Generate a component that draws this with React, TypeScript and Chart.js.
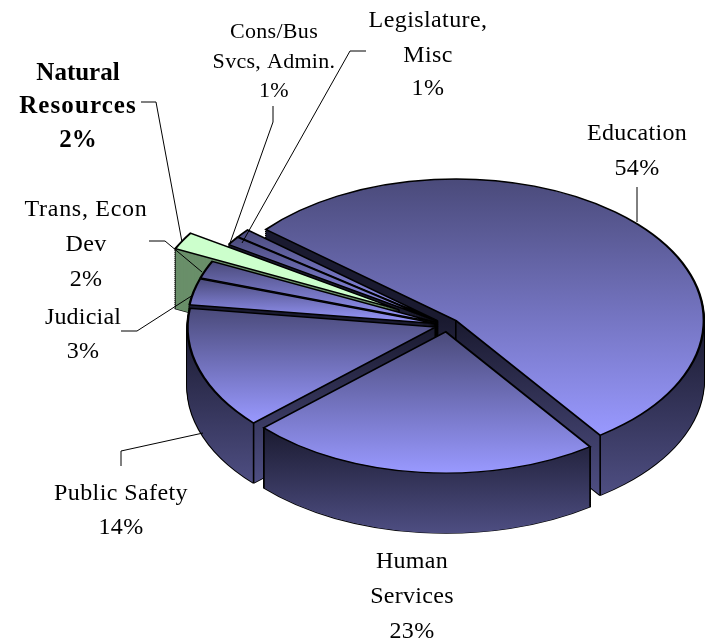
import React, { useEffect, useRef } from "react";
import { Chart, registerables } from "chart.js";

Chart.register(...registerables);

// Share of the budget by programme area, in percent.
const categories = [
  "Education",
  "Human Services",
  "Public Safety",
  "Judicial",
  "Trans, Econ Dev",
  "Natural Resources",
  "Cons/Bus Svcs, Admin.",
  "Legislature, Misc",
];
const shares = [54, 23, 14, 3, 2, 2, 1, 1];

// How each category name wraps on its callout.
const nameLines = [
  ["Education"],
  ["Human", "Services"],
  ["Public Safety"],
  ["Judicial"],
  ["Trans, Econ", "Dev"],
  ["Natural", "Resources"],
  ["Cons/Bus", "Svcs, Admin."],
  ["Legislature,", "Misc"],
];

// 3D projection of the pie.
const WIDTH = 706;
const HEIGHT = 641;
const TILT = 0.57;
const DEPTH = 60;
const RADIUS = 248;
const CENTER_X = 447;
const CENTER_Y = 325;

const explode = [12, 12, 12, 12, 12, 55, 12, 12];
const paintOrder = [0, 7, 6, 5, 4, 3, 2, 1];
const HIGHLIGHTED = 5;

const calloutPlacement = [
  { x: 637, y: [134, 169], size: 24, spacing: [0.3, 0.3] },
  { x: 412, y: [562, 597, 632], size: 24, spacing: [0.3, 0.3, 0.3] },
  { x: 121, y: [494, 528], size: 24, spacing: [0.4, 0.4] },
  { x: 83, y: [318, 352], size: 24, spacing: [0.2, 0.2] },
  { x: 86, y: [210, 245, 280], size: 24, spacing: [0.7, 0.3, 0.3] },
  { x: 78, y: [74, 107, 141], size: 25, bold: true, spacing: [0, 1.1, 0] },
  { x: 274, y: [32, 62, 91], size: 22, spacing: [0.3, 0.3, 0.3] },
  { x: 428, y: [21, 56, 89], size: 24, spacing: [0.4, 0.4, 0.4] },
];

const leaderPaths = [
  [[637, 187], [637, 222]],
  [[121, 466], [121, 451], [203, 433]],
  [[121, 331], [137, 331], [193, 295]],
  [[149, 241], [165, 241], [202, 272]],
  [[141, 102], [156, 102], [182, 242]],
  [[273, 106], [273, 122], [230, 243]],
  [[366, 51], [350, 51], [242, 243]],
];

type Arc = any;

function midAngle(arc: Arc) {
  return (arc.startAngle + arc.endAngle) / 2;
}

// Screen-space y of a point on the top face of a slice.
function screenY(localY: number, shift: number) {
  return CENTER_Y + TILT * (localY + shift);
}

function sliceExtent(arc: Arc, shiftY: number) {
  const rim: number[] = [];
  const steps = 48;
  for (let i = 0; i <= steps; i++) {
    const a = arc.startAngle + ((arc.endAngle - arc.startAngle) * i) / steps;
    rim.push(screenY(Math.sin(a) * arc.outerRadius, shiftY));
  }
  const apex = screenY(0, shiftY);
  return { apex, rimTop: Math.min(...rim), rimBottom: Math.max(...rim) };
}

function verticalGradient(
  ctx: CanvasRenderingContext2D,
  arc: Arc,
  shiftY: number,
  drop: number,
  y0: number,
  y1: number,
  c0: string,
  c1: string
) {
  // Gradient endpoints are given on screen and mapped back under the tilt.
  const toLocal = (y: number) =>
    arc.y + (y - drop - CENTER_Y) / TILT - shiftY;
  const g = ctx.createLinearGradient(0, toLocal(y0), 0, toLocal(y1));
  g.addColorStop(0, c0);
  g.addColorStop(1, c1);
  return g;
}

function withTilt(
  ctx: CanvasRenderingContext2D,
  arc: Arc,
  shiftX: number,
  shiftY: number,
  drop: number,
  paint: () => void
) {
  ctx.save();
  ctx.translate(arc.x, arc.y + drop);
  ctx.scale(1, TILT);
  ctx.translate(-arc.x + shiftX, -arc.y + shiftY);
  paint();
  ctx.restore();
}

function drawWith(ctx: CanvasRenderingContext2D, arc: Arc, overrides: object) {
  const original = arc.options;
  arc.options = { ...original, ...overrides };
  arc.draw(ctx);
  arc.options = original;
}

const pie3d = {
  id: "pie3d",
  beforeDatasetDraw(chart: Chart) {
    const ctx = chart.ctx;
    const arcs = chart.getDatasetMeta(0).data as Arc[];
    for (const index of paintOrder) {
      const arc = arcs[index];
      const mid = midAngle(arc);
      const shiftX = Math.cos(mid) * explode[index];
      const shiftY = Math.sin(mid) * explode[index];
      const { apex, rimTop, rimBottom } = sliceExtent(arc, shiftY);
      const green = index === HIGHLIGHTED;

      // Outline of the extruded body.
      for (let d = DEPTH; d > 0; d -= 2) {
        withTilt(ctx, arc, shiftX, shiftY, d, () =>
          drawWith(ctx, arc, { backgroundColor: "rgba(0,0,0,0)", borderColor: "#000", borderWidth: 2.4 })
        );
      }
      // Side walls.
      const wallTop = Math.max(apex, rimTop);
      const wallBottom = Math.max(apex, rimBottom) + DEPTH;
      for (let d = DEPTH; d > 0; d -= 1) {
        withTilt(ctx, arc, shiftX, shiftY, d, () =>
          drawWith(ctx, arc, {
            borderWidth: 0,
            backgroundColor: green
              ? "#6a8f6a"
              : verticalGradient(ctx, arc, shiftY, d, wallTop, wallBottom, "#1a1a30", "#4e4e82"),
          })
        );
      }
      // Vertical edges at the apex and at rim corners that face the viewer.
      ctx.save();
      ctx.strokeStyle = "#000";
      ctx.lineWidth = 1.6;
      const corners = [[0, 0]];
      for (const a of [arc.startAngle, arc.endAngle]) {
        if (Math.sin(a) > 0) {
          corners.push([Math.cos(a) * arc.outerRadius, Math.sin(a) * arc.outerRadius]);
        }
      }
      for (const [px, py] of corners) {
        const sx = arc.x + px + shiftX;
        const sy = screenY(py, shiftY);
        ctx.beginPath();
        ctx.moveTo(sx, sy);
        ctx.lineTo(sx, sy + DEPTH);
        ctx.stroke();
      }
      ctx.restore();
      // Top face.
      const faceTop = Math.min(apex, rimTop);
      const faceBottom = Math.max(apex, rimBottom);
      withTilt(ctx, arc, shiftX, shiftY, 0, () =>
        drawWith(ctx, arc, {
          borderColor: "#000",
          borderWidth: 2.4,
          borderJoinStyle: "miter",
          backgroundColor: green
            ? "#ccffcc"
            : verticalGradient(ctx, arc, shiftY, 0, faceTop, faceBottom, "#4a4a7a", "#9999ff"),
        })
      );
    }
    return false;
  },
  afterDraw(chart: Chart) {
    const ctx = chart.ctx as any;
    ctx.save();
    ctx.strokeStyle = "#000";
    ctx.lineWidth = 1;
    for (const path of leaderPaths) {
      ctx.beginPath();
      path.forEach(([x, y], i) => (i ? ctx.lineTo(x, y) : ctx.moveTo(x, y)));
      ctx.stroke();
    }
    ctx.fillStyle = "#000";
    ctx.textAlign = "center";
    ctx.textBaseline = "middle";
    calloutPlacement.forEach((place, i) => {
      const lines = [...nameLines[i], `${shares[i]}%`];
      ctx.font = `${place.bold ? "bold " : ""}${place.size}px "Liberation Serif"`;
      lines.forEach((line, j) => {
        ctx.letterSpacing = `${place.spacing[j]}px`;
        ctx.fillText(line, place.x, place.y[j]);
      });
    });
    ctx.restore();
  },
};

export default function App() {
  const ref = useRef<HTMLCanvasElement>(null);
  useEffect(() => {
    const chart = new Chart(ref.current as HTMLCanvasElement, {
      type: "pie",
      data: {
        labels: categories,
        datasets: [{ data: shares, backgroundColor: "#9999ff", hoverOffset: 0 }],
      },
      options: {
        responsive: false,
        animation: false,
        events: [],
        rotation: -50,
        radius: RADIUS,
        layout: {
          padding: {
            left: 2 * CENTER_X - WIDTH,
            top: Math.max(2 * CENTER_Y - HEIGHT, 0),
            right: 0,
            bottom: 0,
          },
        },
        plugins: { legend: { display: false }, title: { display: false }, tooltip: { enabled: false } },
      },
      plugins: [pie3d],
    } as any);
    return () => chart.destroy();
  }, []);
  return (
    <canvas
      ref={ref}
      width={WIDTH}
      height={HEIGHT}
      style={{ position: "absolute", left: 0, top: 0, width: WIDTH, height: HEIGHT }}
    />
  );
}
